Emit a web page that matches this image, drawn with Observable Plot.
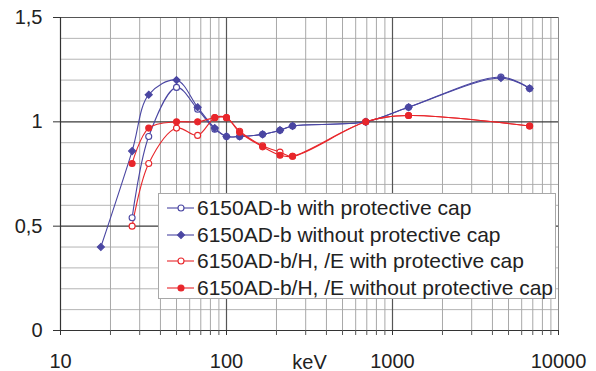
<!DOCTYPE html>
<html><head><meta charset="utf-8">
<script src="https://cdn.jsdelivr.net/npm/d3@7"></script>
<script src="https://cdn.jsdelivr.net/npm/@observablehq/plot@0.6"></script>
<style>
body{margin:0;background:#fff;font-family:"Liberation Sans",Arial,sans-serif}
#wrap{position:relative;width:596px;height:371px;overflow:hidden}
#legend{position:absolute;left:158px;top:193px;width:398px;height:106px;background:#fff;border:1px solid #a8a8a8;box-sizing:border-box}
.row{position:absolute;left:0;height:26px;display:flex;align-items:center;font-size:21px;color:#222;white-space:nowrap}
.row svg{margin-left:8px;margin-right:3px}
</style></head><body>
<div id="wrap"><div id="legend"></div></div>
<script>
// ---- data ----
const seriesNames = [
  "6150AD-b with protective cap",
  "6150AD-b without protective cap",
  "6150AD-b/H, /E with protective cap",
  "6150AD-b/H, /E without protective cap"
];
const energyBlueOpen = [27, 34, 50, 67, 85, 100, 120, 165, 210, 250, 690, 1250, 4500, 6700];
const valueBlueOpen  = [0.54, 0.93, 1.165, 1.06, 0.965, 0.93, 0.93, 0.94, 0.96, 0.98, 1.00, 1.07, 1.215, 1.16];
const energyBlueFilled = [17.5, 27, 34, 50, 67, 85, 100, 120, 165, 210, 250, 690, 1250, 4500, 6700];
const valueBlueFilled  = [0.40, 0.86, 1.13, 1.20, 1.07, 0.97, 0.93, 0.93, 0.94, 0.96, 0.98, 1.00, 1.07, 1.21, 1.16];
const energyRedOpen = [27, 34, 50, 67, 85, 100, 120, 165, 210, 250, 690, 1250, 6700];
const valueRedOpen  = [0.50, 0.80, 0.97, 0.935, 1.02, 1.02, 0.955, 0.885, 0.855, 0.835, 1.00, 1.03, 0.98];
const energyRedFilled = [27, 34, 50, 67, 85, 100, 120, 165, 210, 250, 690, 1250, 6700];
const valueRedFilled  = [0.80, 0.97, 1.00, 1.00, 1.02, 1.02, 0.95, 0.88, 0.84, 0.835, 1.00, 1.03, 0.98];
const xTickLabels = [10, 100, 1000, 10000];
const yTickLabels = [0, 0.5, 1, 1.5];

// ---- styles ----
const BLUE = "#4a46a2", RED = "#e8262b";
const styles = [
  {color: BLUE, symbol: "circle", fill: "#fff"},
  {color: BLUE, symbol: "diamond2", fill: BLUE},
  {color: RED, symbol: "circle", fill: "#fff"},
  {color: RED, symbol: "circle", fill: RED}
];
const toRows = (xs, ys, s) => xs.map((x, i) => ({x, y: ys[i], s}));
const series = [
  toRows(energyBlueOpen, valueBlueOpen, 0),
  toRows(energyBlueFilled, valueBlueFilled, 1),
  toRows(energyRedOpen, valueRedOpen, 2),
  toRows(energyRedFilled, valueRedFilled, 3)
];

// gridlines
const minorX = [];
for (const d of [10, 100, 1000]) for (let k = 2; k <= 9; k++) minorX.push(d * k);
const minorY = d3.range(1, 15).map(i => i / 10).filter(v => Math.abs(v - 0.5) > 1e-9 && Math.abs(v - 1) > 1e-9);

const lineMarks = series.map((data, i) => Plot.line(data, {x: "x", y: "y", stroke: styles[i].color, strokeWidth: 1.1, curve: "catmull-rom"}));
const dotMarks = [0, 2, 1, 3].map(i => Plot.dot(series[i], {
  x: "x", y: "y", symbol: () => styles[i].symbol, r: styles[i].symbol === "diamond2" ? 3.2 : 3,
  stroke: styles[i].color, strokeWidth: 1.1, fill: styles[i].fill
}));

const chart = Plot.plot({
  width: 596, height: 371,
  marginLeft: 60, marginRight: 38, marginTop: 17, marginBottom: 41,
  style: {fontFamily: "'Liberation Sans', Arial, sans-serif", fontSize: "20px", color: "#222", background: "#fff"},
  x: {type: "log", domain: [10, 10000]},
  y: {domain: [0, 1.5]},
  symbol: {type: "identity"},
  marks: [
    Plot.ruleY(minorY, {stroke: "#b4b4b4", strokeWidth: 1}),
    Plot.ruleX(minorX, {stroke: "#a8a8a8", strokeWidth: 1}),
    Plot.ruleX([10000], {stroke: "#888", strokeWidth: 1}),
    Plot.ruleX([100, 1000], {stroke: "#555", strokeWidth: 1.2}),
    Plot.ruleY([1.5], {stroke: "#555", strokeWidth: 1}),
    Plot.ruleY([0.5, 1], {stroke: "#3a3a3a", strokeWidth: 1.2}),
    Plot.ruleX([10], {stroke: "#333", strokeWidth: 1.2}),
    Plot.ruleY([0], {stroke: "#333", strokeWidth: 1.2}),
    Plot.axisY({ticks: yTickLabels, tickSize: 7, tickPadding: 11, tickFormat: d => String(d).replace(".", ","), label: null, stroke: "#333"}),
    Plot.axisX({ticks: minorX, tickSize: 5, tickFormat: () => "", label: null, stroke: "#555"}),
    Plot.axisX({ticks: xTickLabels, tickSize: 5, tickPadding: 18, tickFormat: "d", label: "keV", labelAnchor: "center", labelArrow: "none", labelOffset: 38, stroke: "#333"}),
    ...lineMarks,
    ...dotMarks
  ]
});
const wrap = document.getElementById("wrap");
wrap.insertBefore(chart, wrap.firstChild);

// legend overlay
const legend = document.getElementById("legend");
seriesNames.forEach((name, i) => {
  const st = styles[i];
  const row = document.createElement("div");
  row.className = "row";
  row.style.top = (1 + i * 26.5) + "px";
  const marker = st.symbol === "diamond2"
    ? `<path d="M14,3.5 L17.5,7 L14,10.5 L10.5,7 Z" fill="${st.fill}" stroke="${st.color}" stroke-width="1.1"/>`
    : `<circle cx="14" cy="7" r="3" fill="${st.fill}" stroke="${st.color}" stroke-width="1.1"/>`;
  row.innerHTML = `<svg width="27" height="14"><line x1="0" y1="7" x2="27" y2="7" stroke="${st.color}" stroke-width="1.1"/>${marker}</svg><span></span>`;
  row.querySelector("span").textContent = name;
  legend.appendChild(row);
});
</script>
</body></html>
